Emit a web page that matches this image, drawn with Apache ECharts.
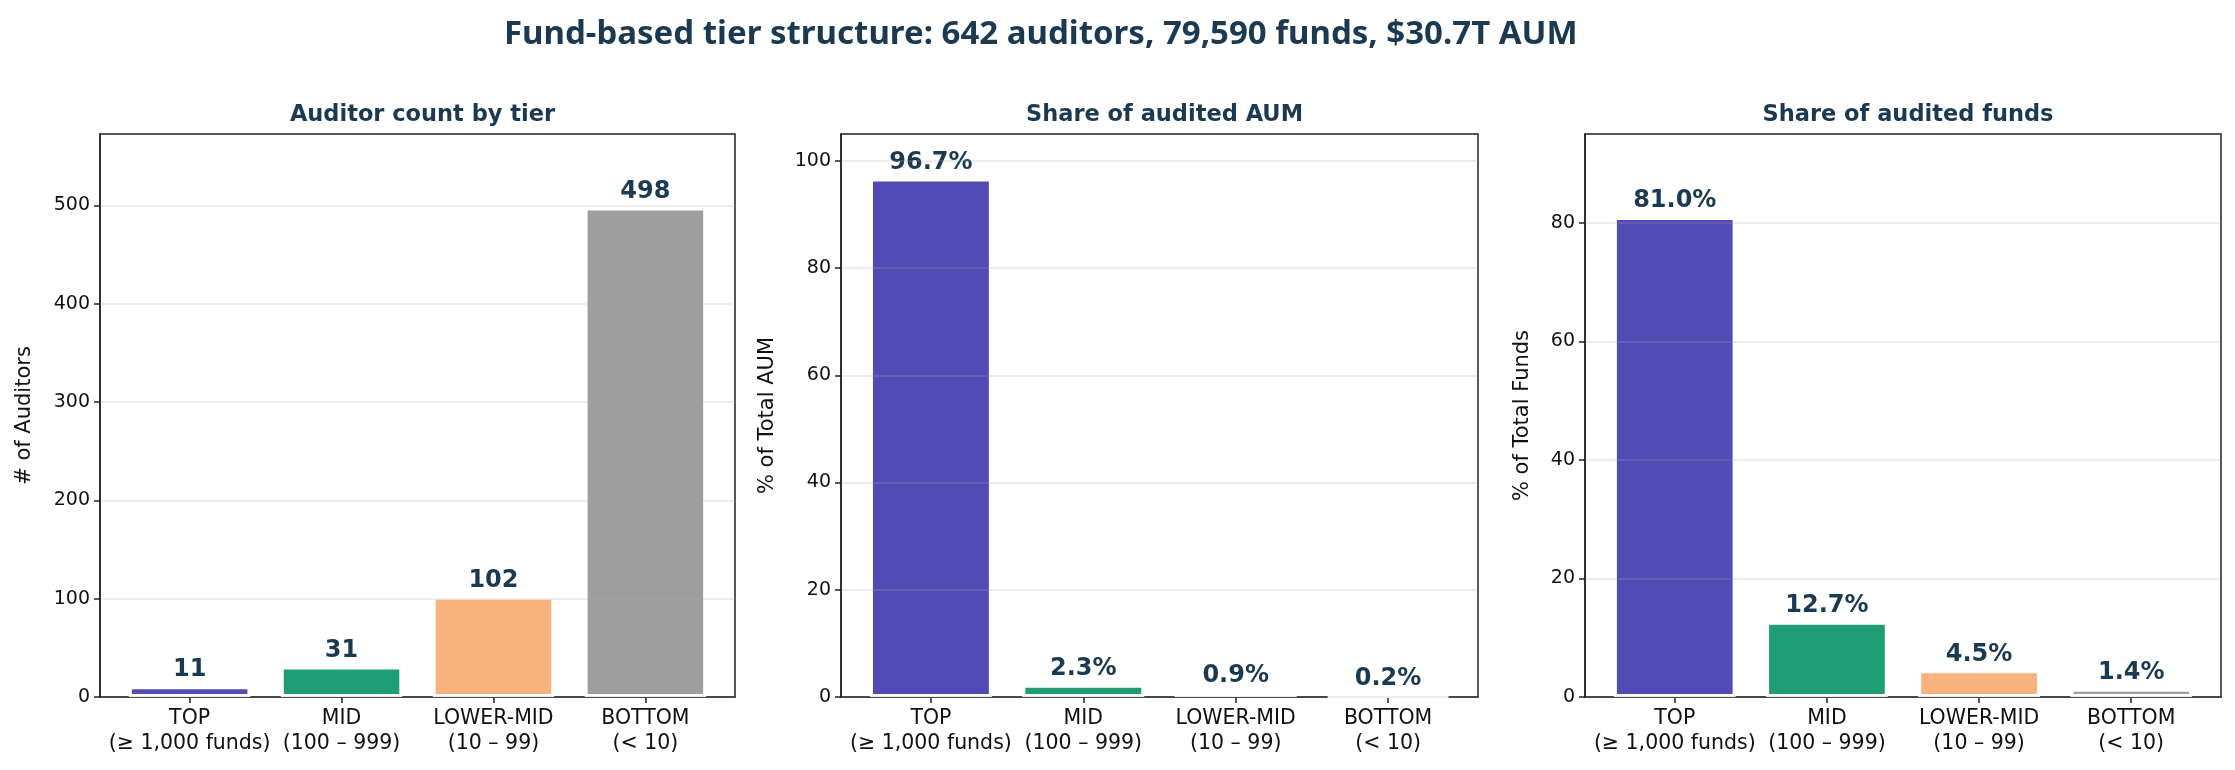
<!DOCTYPE html>
<html>
<head>
<meta charset="utf-8">
<script src="https://cdn.jsdelivr.net/npm/echarts@6/dist/echarts.min.js"></script>
<style>
  html, body { margin: 0; padding: 0; background: #fff; }
  #chart { width: 2235px; height: 770px; }
</style>
</head>
<body>
<div id="chart"></div>
<script>
const tiers = ['TOP\n(≥ 1,000 funds)', 'MID\n(100 – 999)', 'LOWER-MID\n(10 – 99)', 'BOTTOM\n(< 10)'];
const tierPos = [0, 1, 2, 3];
const tierColors = ['#534bb5', '#1f9e76', '#f9b27c', '#9e9e9e'];
const auditorCount = [11, 31, 102, 498];
const aumShare = [96.7, 2.3, 0.9, 0.2];
const fundShare = [81.0, 12.7, 4.5, 1.4];
const auditorTicks = [0, 100, 200, 300, 400, 500];
const aumTicks = [0, 20, 40, 60, 80, 100];
const fundTicks = [0, 20, 40, 60, 80];

const navy = '#1b3a52';
const font = 'DejaVu Sans';
// x range like matplotlib: bars of width 0.8 plus 5% margins
const xMin = -0.59, xMax = 3.59;

const panels = [
  { title: 'Auditor count by tier', yName: '# of Auditors', data: auditorCount, max: 498 * 1.15, ticks: auditorTicks, left: 100, width: 635, nameGap: 65, pct: false },
  { title: 'Share of audited AUM', yName: '% of Total AUM', data: aumShare, max: 105, ticks: aumTicks, left: 841, width: 637, nameGap: 63, pct: true },
  { title: 'Share of audited funds', yName: '% of Total Funds', data: fundShare, max: 95, ticks: fundTicks, left: 1585, width: 636, nameGap: 52, pct: true }
];

const chart = echarts.init(document.getElementById('chart'));

const option = {
  backgroundColor: '#fff',
  animation: false,
  textStyle: { fontFamily: font },
  title: [{
    text: 'Fund-based tier structure: 642 auditors, 79,590 funds, $30.7T AUM',
    left: 499,
    top: 13,
    textStyle: { fontFamily: 'Noto Sans', fontWeight: 'bold', fontSize: 33, color: navy }
  }].concat(panels.map(p => ({
    text: p.title,
    left: p.left + p.width / 2,
    textAlign: 'center',
    top: 99,
    textStyle: { fontFamily: font, fontWeight: 'bold', fontSize: 22.5, color: navy }
  }))),
  grid: panels.map(p => ({
    left: p.left, width: p.width, top: 134, height: 563,
    show: true, borderColor: '#222', borderWidth: 1.5, backgroundColor: 'transparent'
  })),
  xAxis: panels.map((p, i) => ({
    type: 'value',
    gridIndex: i,
    min: xMin,
    max: xMax,
    splitLine: { show: false },
    axisLine: { onZero: false, lineStyle: { color: '#222', width: 1.5 } },
    axisTick: { show: true, length: 6, customValues: tierPos, lineStyle: { color: '#222', width: 1.5 } },
    axisLabel: {
      customValues: tierPos,
      formatter: v => tiers[Math.round(v)],
      fontSize: 20.5, lineHeight: 25, color: '#111', margin: 9, fontFamily: font
    }
  })),
  yAxis: panels.map((p, i) => ({
    type: 'value',
    gridIndex: i,
    min: 0,
    max: p.max,
    z: 3,
    name: p.yName,
    nameLocation: 'middle',
    nameGap: p.nameGap,
    nameTextStyle: { fontSize: 21, color: '#111', fontFamily: font },
    axisLine: { show: true, onZero: false, lineStyle: { color: '#222', width: 1.5 } },
    axisTick: { show: true, length: 6, customValues: p.ticks, lineStyle: { color: '#222', width: 1.5 } },
    axisLabel: { fontSize: 19, color: '#111', margin: 10, customValues: p.ticks, fontFamily: font },
    splitLine: { show: true, lineStyle: { color: 'rgba(170,170,170,0.28)', width: 1.5 } }
  })),
  series: panels.map((p, i) => ({
    type: 'bar',
    xAxisIndex: i,
    yAxisIndex: i,
    data: p.data.map((v, k) => ({ value: [tierPos[k], v], itemStyle: { color: tierColors[k] } })),
    barWidth: p.width / (xMax - xMin) * 0.8,
    itemStyle: { borderColor: '#fff', borderWidth: 3 },
    label: {
      show: true,
      position: 'top',
      distance: 4,
      fontFamily: font,
      fontWeight: 'bold',
      fontSize: 24,
      color: navy,
      formatter: d => p.pct ? d.value[1].toFixed(1) + '%' : String(d.value[1])
    }
  }))
};

chart.setOption(option);
</script>
</body>
</html>
